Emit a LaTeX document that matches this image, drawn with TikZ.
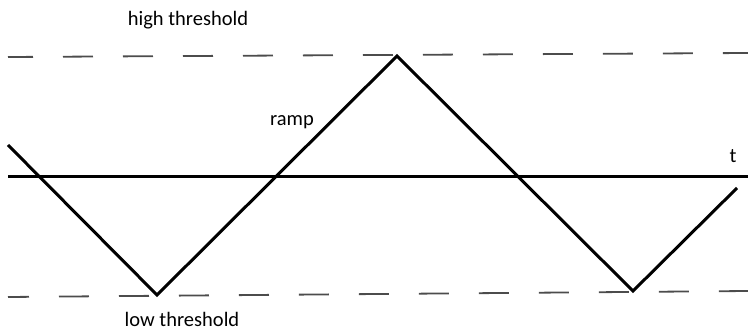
\documentclass[tikz,border=0pt]{standalone}
\usepackage{fontspec}
\setmainfont{Carlito}
\begin{document}
\begin{tikzpicture}[x=1pt,y=-1pt,
  lbl/.style={inner sep=0pt,anchor=base,font=\fontsize{20.5}{24}\selectfont,text=black},
  thresh/.style={draw=black!70,line width=1.8pt,dash pattern=on 30pt off 30pt},
  ramp/.style={draw=black,line width=3pt,line join=miter},
  axis/.style={draw=black,line width=3pt}]
\useasboundingbox (0,0) rectangle (748,331);
% coordinates
\coordinate (h0) at (8,57);
\coordinate (h1) at (748,53);
\coordinate (l0) at (8,297);
\coordinate (l1) at (748,291);
\coordinate (a0) at (8,177);
\coordinate (a1) at (748,177);
\coordinate (r0) at (8,145);
\coordinate (r1) at (157,295);
\coordinate (r2) at (397,56);
\coordinate (r3) at (633,291);
\coordinate (r4) at (737,188);
% threshold lines
\draw[thresh,dash phase=5pt] (h0) -- (h1);
\draw[thresh,dash phase=9pt] (l0) -- (l1);
% axis
\draw[axis] (a0) -- (a1);
% ramp
\draw[ramp] (r0) -- (r1) -- (r2) -- (r3) -- (r4);
% labels
\node[lbl] (high) at (188,26) {high threshold};
\node[lbl] (low) at (182,327) {low threshold};
\node[lbl] (rampl) at (292,126) {ramp};
\node[lbl] (t) at (733,163) {t};
\end{tikzpicture}
\end{document}
